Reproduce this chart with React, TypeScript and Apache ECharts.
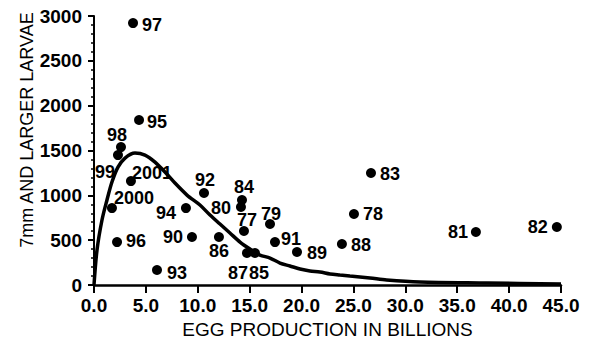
import React, { useEffect, useRef } from "react";
import * as echarts from "echarts";

const years = ["97", "95", "98", "99", "2001", "2000", "96", "93", "94", "90", "92", "86", "84", "80", "77", "87", "85", "79", "91", "89", "88", "78", "83", "81", "82"];
const eggs = [3.76, 4.34, 2.6, 2.31, 3.56, 1.73, 2.22, 6.07, 8.86, 9.44, 10.6, 12.04, 14.26, 14.16, 14.45, 14.74, 15.51, 16.96, 17.44, 19.56, 23.89, 25.05, 26.69, 36.8, 44.6];
const larvae = [2921, 1840, 1538, 1449, 1159, 858, 479, 167, 858, 535, 1026, 535, 948, 870, 602, 357, 357, 680, 479, 368, 457, 792, 1249, 591, 647];

const curveX = [0, 0.29, 0.77, 1.25, 1.73, 2.31, 2.99, 3.95, 4.91, 5.88, 6.84, 7.8, 8.96, 10.21, 11.18, 12.14, 13.1, 14.07, 15.03, 15.99, 16.96, 17.92, 18.88, 19.85, 20.81, 21.77, 22.74, 23.7, 24.66, 26.59, 28.2, 31.4, 37.9, 45];
const curveY = [0, 390, 725, 948, 1148, 1315, 1416, 1472, 1449, 1371, 1260, 1137, 1003, 892, 780, 680, 580, 479, 401, 334, 301, 245, 212, 178, 156, 145, 123, 111, 100, 78, 56, 33, 22, 11];

const xTicks = ["0.0", "5.0", "10.0", "15.0", "20.0", "25.0", "30.0", "35.0", "40.0", "45.0"];
const yTicks = ["0", "500", "1000", "1500", "2000", "2500", "3000"];

// label placement (style): offset of label centre from the dot centre, px
const labelOffsets: Record<string, [number, number]> = {
  "97": [19, 2], "95": [18, 2], "98": [-4, -12], "99": [-13, 17], "2001": [21, -8],
  "2000": [22, -10], "96": [19, -1], "93": [20, 3], "94": [-20, 5], "90": [-19, 0],
  "92": [1, -13], "86": [0, 14], "84": [2, -13], "80": [-20, 1], "77": [3, -11],
  "87": [-9, 20], "85": [4, 20], "79": [1, -10], "91": [16, -3], "89": [20, 1],
  "88": [19, 1], "78": [19, 0], "83": [19, 1], "81": [-18, 0], "82": [-19, 0],
};

const FONT = "'Liberation Sans', Arial, Helvetica, sans-serif";
const DOT = 10;

export default function App() {
  const ref = useRef<HTMLDivElement>(null);
  useEffect(() => {
    if (!ref.current) return;
    const chart = echarts.init(ref.current, undefined, { renderer: "svg" });
    const scatterData = years.map((yr, i) => {
      const off = labelOffsets[yr] || [18, 0];
      return {
        value: [eggs[i], larvae[i]],
        name: yr,
        label: {
          show: true,
          position: [DOT / 2 + off[0], DOT / 2 + off[1]],
          align: "center",
          verticalAlign: "middle",
        },
      };
    });
    const curveData = curveX.map((x, i) => [x, curveY[i]]);
    chart.setOption({
      animation: false,
      backgroundColor: "#ffffff",
      grid: { left: 94, right: 30, top: 16, bottom: 65, containLabel: false },
      xAxis: {
        type: "value",
        min: 0,
        max: 45,
        interval: 5,
        name: "EGG PRODUCTION IN BILLIONS",
        nameLocation: "middle",
        nameGap: 35,
        nameTextStyle: { fontFamily: FONT, fontSize: 19, color: "#000", fontWeight: "normal" },
        axisLine: { show: true, onZero: false, lineStyle: { color: "#000", width: 2.5 } },
        axisTick: { show: true, length: 8, lineStyle: { color: "#000", width: 2 } },
        axisLabel: {
          margin: 11,
          fontFamily: FONT,
          fontSize: 19,
          fontWeight: "bold",
          color: "#000",
          formatter: (v: number) => xTicks[Math.round(v / 5)] ?? "",
        },
        splitLine: { show: false },
      },
      yAxis: {
        type: "value",
        min: 0,
        max: 3000,
        interval: 500,
        axisLine: { show: true, lineStyle: { color: "#000", width: 2 } },
        axisTick: { show: true, length: 6, lineStyle: { color: "#000", width: 2 } },
        minorTick: { show: true, splitNumber: 5, length: 3, lineStyle: { color: "#000", width: 1.5 } },
        axisLabel: {
          margin: 12,
          fontFamily: FONT,
          fontSize: 19,
          fontWeight: "bold",
          color: "#000",
          formatter: (v: number) => yTicks[Math.round(v / 500)] ?? "",
        },
        splitLine: { show: false },
        minorSplitLine: { show: false },
      },
      graphic: [
        {
          type: "text",
          x: 26.5,
          y: 130,
          rotation: Math.PI / 2,
          style: {
            text: "7mm AND LARGER LARVAE",
            font: `normal 18px ${FONT}`,
            fill: "#000",
            textAlign: "center",
            textVerticalAlign: "middle",
          },
        },
      ],
      series: [
        {
          type: "line",
          data: curveData,
          showSymbol: false,
          smooth: 0.3,
          lineStyle: { color: "#000", width: 3.5 },
          z: 2,
          silent: true,
        },
        {
          type: "scatter",
          data: scatterData,
          symbol: "circle",
          symbolSize: DOT,
          itemStyle: { color: "#000", opacity: 1 },
          z: 3,
          label: {
            show: true,
            formatter: (p: any) => p.name,
            fontFamily: FONT,
            fontSize: 18,
            fontWeight: "bold",
            color: "#000",
            opacity: 1,
          },
        },
      ],
    });
    return () => chart.dispose();
  }, []);
  return (
    <div
      ref={ref}
      style={{ position: "fixed", left: 0, top: 0, width: 591, height: 350, background: "#fff" }}
    />
  );
}
